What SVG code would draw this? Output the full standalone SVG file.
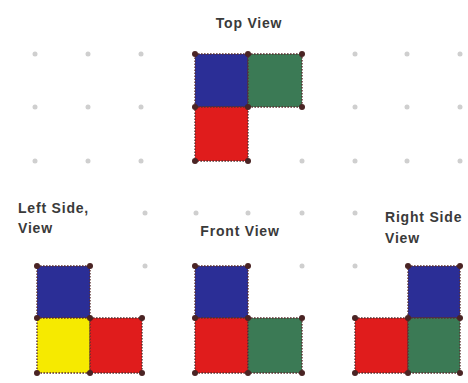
<svg xmlns="http://www.w3.org/2000/svg" width="468" height="383" viewBox="0 0 468 383">
<style>
.lbl{font-family:"Liberation Sans",Arial,sans-serif;font-size:14px;font-weight:bold;letter-spacing:0.8px;fill:#3a3a3a}
.g{fill:#cfcfcf}
.c{fill:#4a2424}
.sq{stroke:#5a3030;stroke-width:1.4;stroke-dasharray:1.6 1.4}
.b{fill:#2b2e96}.gr{fill:#3b7a55}.r{fill:#e01c1c}.y{fill:#f6ea00}
</style>
<rect width="468" height="383" fill="#ffffff"/>
<g id="grid">
<circle class="g" cx="35" cy="54" r="2.5"/><circle class="g" cx="88" cy="54" r="2.5"/><circle class="g" cx="141" cy="54" r="2.5"/>
<circle class="g" cx="355" cy="54" r="2.5"/><circle class="g" cx="407" cy="54" r="2.5"/><circle class="g" cx="460" cy="54" r="2.5"/>
<circle class="g" cx="35" cy="107" r="2.5"/><circle class="g" cx="88" cy="107" r="2.5"/><circle class="g" cx="141" cy="107" r="2.5"/>
<circle class="g" cx="355" cy="107" r="2.5"/><circle class="g" cx="407" cy="107" r="2.5"/><circle class="g" cx="460" cy="107" r="2.5"/>
<circle class="g" cx="35" cy="161" r="2.5"/><circle class="g" cx="88" cy="161" r="2.5"/><circle class="g" cx="141" cy="161" r="2.5"/>
<circle class="g" cx="302" cy="161" r="2.5"/>
<circle class="g" cx="355" cy="161" r="2.5"/><circle class="g" cx="407" cy="161" r="2.5"/><circle class="g" cx="460" cy="161" r="2.5"/>
<circle class="g" cx="145" cy="213" r="2.5"/><circle class="g" cx="196" cy="213" r="2.5"/><circle class="g" cx="248" cy="213" r="2.5"/><circle class="g" cx="302" cy="213" r="2.5"/><circle class="g" cx="355" cy="213" r="2.5"/>
<circle class="g" cx="145" cy="266" r="2.5"/><circle class="g" cx="302" cy="266" r="2.5"/><circle class="g" cx="355" cy="266" r="2.5"/>
</g>
<g id="top-view">
<text class="lbl" x="249" y="28" text-anchor="middle">Top View</text>
<rect class="sq b" x="195" y="54" width="53" height="53"/>
<rect class="sq gr" x="248" y="54" width="54" height="53"/>
<rect class="sq r" x="195" y="107" width="53" height="54"/>
<circle class="c" cx="195" cy="54" r="3"/><circle class="c" cx="248" cy="54" r="3"/><circle class="c" cx="302" cy="54" r="3"/>
<circle class="c" cx="195" cy="107" r="3"/><circle class="c" cx="248" cy="107" r="3"/><circle class="c" cx="302" cy="107" r="3"/>
<circle class="c" cx="195" cy="161" r="3"/><circle class="c" cx="248" cy="161" r="3"/>
</g>
<g id="left-view">
<text class="lbl" x="18" y="213">Left Side,</text>
<text class="lbl" x="18" y="233">View</text>
<rect class="sq b" x="37" y="266" width="53" height="52"/>
<rect class="sq y" x="37" y="318" width="53" height="55"/>
<rect class="sq r" x="90" y="318" width="52" height="55"/>
<circle class="c" cx="37" cy="266" r="3"/><circle class="c" cx="90" cy="266" r="3"/>
<circle class="c" cx="37" cy="318" r="3"/><circle class="c" cx="90" cy="318" r="3"/><circle class="c" cx="142" cy="318" r="3"/>
<circle class="c" cx="37" cy="373" r="3"/><circle class="c" cx="90" cy="373" r="3"/><circle class="c" cx="142" cy="373" r="3"/>
</g>
<g id="front-view">
<text class="lbl" x="240" y="236" text-anchor="middle">Front View</text>
<rect class="sq b" x="195" y="266" width="53" height="52"/>
<rect class="sq r" x="195" y="318" width="53" height="55"/>
<rect class="sq gr" x="248" y="318" width="54" height="55"/>
<circle class="c" cx="195" cy="266" r="3"/><circle class="c" cx="248" cy="266" r="3"/>
<circle class="c" cx="195" cy="318" r="3"/><circle class="c" cx="248" cy="318" r="3"/><circle class="c" cx="302" cy="318" r="3"/>
<circle class="c" cx="195" cy="373" r="3"/><circle class="c" cx="248" cy="373" r="3"/><circle class="c" cx="302" cy="373" r="3"/>
</g>
<g id="right-view">
<text class="lbl" x="385" y="222">Right Side</text>
<text class="lbl" x="385" y="243">View</text>
<rect class="sq b" x="408" y="266" width="52" height="52"/>
<rect class="sq r" x="355" y="318" width="53" height="55"/>
<rect class="sq gr" x="408" y="318" width="52" height="55"/>
<circle class="c" cx="408" cy="266" r="3"/><circle class="c" cx="460" cy="266" r="3"/>
<circle class="c" cx="355" cy="318" r="3"/><circle class="c" cx="408" cy="318" r="3"/><circle class="c" cx="460" cy="318" r="3"/>
<circle class="c" cx="355" cy="373" r="3"/><circle class="c" cx="408" cy="373" r="3"/><circle class="c" cx="460" cy="373" r="3"/>
</g>
</svg>
